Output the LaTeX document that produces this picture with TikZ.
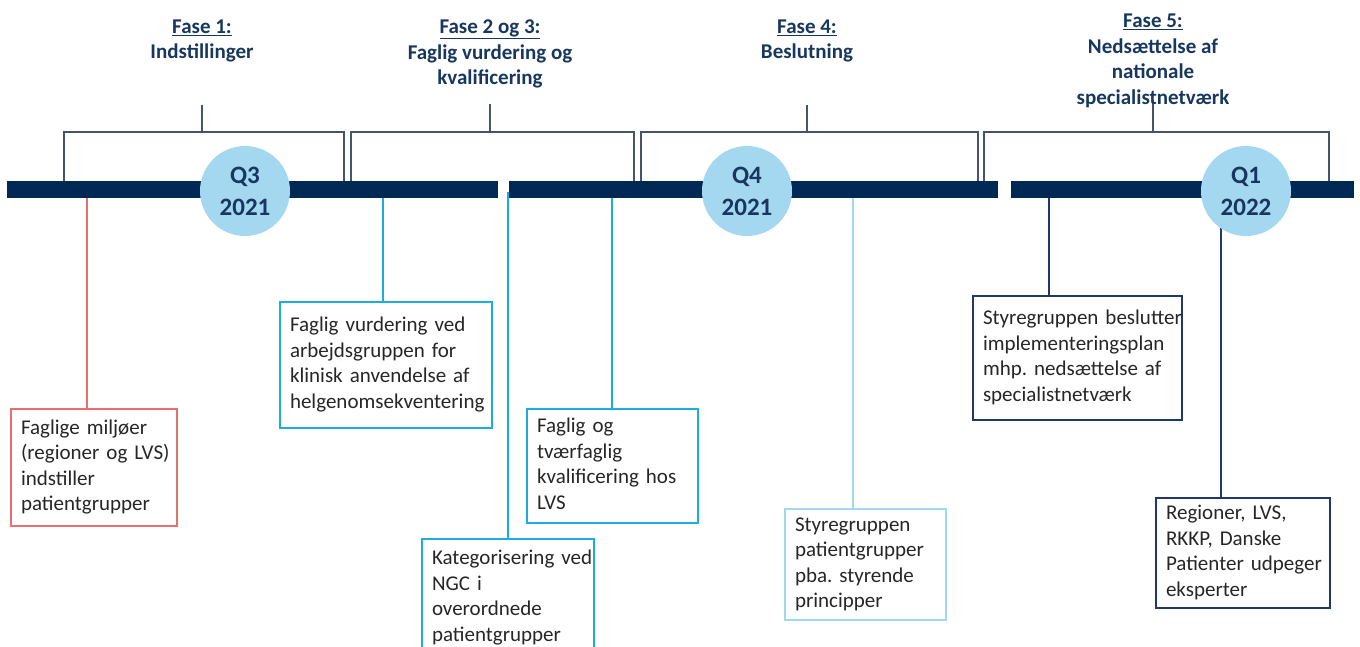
\documentclass[tikz,border=0pt]{standalone}
\usepackage{fontspec}
\setmainfont{Carlito}
\usetikzlibrary{positioning}
\definecolor{timenavy}{RGB}{0,40,85}
\definecolor{quarterblue}{RGB}{164,215,240}
\definecolor{headnavy}{RGB}{23,55,94}
\definecolor{bracketgrey}{RGB}{68,84,106}
\definecolor{cardred}{RGB}{235,110,110}
\definecolor{cardcyan}{RGB}{27,173,224}
\definecolor{cardpale}{RGB}{160,216,240}
\definecolor{cardnavy}{RGB}{31,56,100}
\definecolor{cardtext}{RGB}{38,38,38}
\newcommand{\cardlines}[1]{\begin{tabular}{@{}l@{}}#1\end{tabular}}
\tikzset{
  timebar/.style={fill=timenavy, inner sep=0, minimum height=17pt, anchor=west},
  quarter/.style={circle, fill=quarterblue, minimum size=90pt, inner sep=0,
    align=center, text=headnavy, font=\fontsize{25}{32}\selectfont\bfseries},
  phase/.style={align=center, text=headnavy, font=\fontsize{21}{25.5}\selectfont\bfseries},
  bracket/.style={draw=bracketgrey, line width=1.2pt},
  card/.style={draw=#1, line width=2pt, anchor=north west, align=left,
    inner xsep=10pt, inner ysep=4pt, text=cardtext, font=\fontsize{21}{25.5}\selectfont},
  link/.style={draw=#1, line width=2pt},
}
\frenchspacing

\begin{document}
\begin{tikzpicture}[x=1pt, y=-1pt]
  \useasboundingbox (0,0) rectangle (1360,646);
  \clip (0,0) rectangle (1360,646);

  % Phase brackets
  \foreach \l/\r/\m/\t in {64/344/202/105, 351/634/490/104, 641/978/807/105, 984/1329/1153/100} {
    \draw[bracket] (\l,181) |- (\r,132) -- (\r,181);
    \draw[bracket] (\m,132) -- (\m,\t);
  }

  % Cards
  \node[card=cardred, text width=146pt, minimum height=117pt] (miljoer) at (10,408)
    {\cardlines{Faglige miljøer\\(regioner og LVS)\\indstiller\\patientgrupper}};
  \node[card=cardcyan, text width=192pt, minimum height=126pt] (vurdering) at (279,301)
    {\cardlines{Faglig vurdering ved\\arbejdsgruppen for\\klinisk anvendelse af\\helgenomsekventering}};
  \node[card=cardcyan, text width=152pt, minimum height=118pt] (ngc) at (421,538)
    {\cardlines{Kategorisering ved\\NGC i\\overordnede\\patientgrupper}};
  \node[card=cardcyan, text width=151pt, minimum height=114pt] (lvs) at (526,408)
    {\cardlines{Faglig og\\tværfaglig\\kvalificering hos\\LVS}};
  \node[card=cardpale, text width=141pt, minimum height=111pt] (principper) at (784,508)
    {\cardlines{Styregruppen\\patientgrupper\\pba. styrende\\principper}};
  \node[card=cardnavy, text width=189pt, minimum height=124pt] (plan) at (972,295)
    {\cardlines{Styregruppen beslutter\\implementeringsplan\\mhp. nedsættelse af\\specialistnetværk}};
  \node[card=cardnavy, text width=154pt, minimum height=110pt] (eksperter) at (1155,497)
    {\cardlines{Regioner, LVS,\\RKKP, Danske\\Patienter udpeger\\eksperter}};

  % Connectors from the timeline
  \coordinate (t1) at (87,189);
  \coordinate (t2) at (383,189);
  \coordinate (t3) at (508,192);
  \coordinate (t4) at (612,189);
  \coordinate (t5) at (853,189);
  \coordinate (t6) at (1049,189);
  \coordinate (t7) at (1221,189);
  \draw[link=cardred] (t1) -- (t1 |- miljoer.north);
  \draw[link=cardcyan] (t2) -- (t2 |- vurdering.north);
  \draw[link=cardcyan] (t3) -- (t3 |- ngc.north);
  \draw[link=cardcyan] (t4) -- (t4 |- lvs.north);
  \draw[link=cardpale] (t5) -- (t5 |- principper.north);
  \draw[link=cardnavy] (t6) -- (t6 |- plan.north);
  \draw[link=cardnavy] (t7) -- (t7 |- eksperter.north);

  % Timeline
  \node[timebar, minimum width=491pt] (seg1) at (7,189) {};
  \node[timebar, minimum width=489pt] (seg2) at (509,189) {};
  \node[timebar, minimum width=343pt] (seg3) at (1011,189) {};

  % Quarters
  \node[quarter] (q3) at (245,191) {Q3\\2021};
  \node[quarter] (q4) at (747,191) {Q4\\2021};
  \node[quarter] (q1) at (1246,191) {Q1\\2022};

  % Phase titles
  \node[phase] (fase1) at (202,41) {\underline{Fase 1:}\\Indstillinger};
  \node[phase] (fase23) at (490,54) {\underline{Fase 2 og 3:}\\Faglig vurdering og\\kvalificering};
  \node[phase] (fase4) at (807,41) {\underline{Fase 4:}\\Beslutning};
  \node[phase] (fase5) at (1153,61) {\underline{Fase 5:}\\Nedsættelse af\\nationale\\specialistnetværk};
\end{tikzpicture}
\end{document}
